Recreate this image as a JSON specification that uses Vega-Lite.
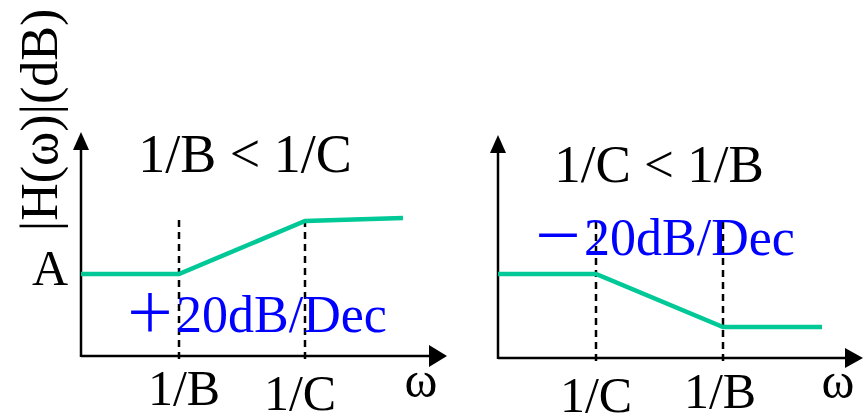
{
  "$schema": "https://vega.github.io/schema/vega-lite/v6.json",
  "padding": 0,
  "spacing": 0,
  "background": "white",
  "config": {"view": {"stroke": null}, "concat": {"spacing": 0}},
  "datasets": {
    "axes": [
      {"panel": "L", "x": 0, "y": -0.01, "x2": 0, "y2": 2.1},
      {"panel": "L", "x": 0, "y": 0, "x2": 3.5, "y2": 0},
      {"panel": "R", "x": 0, "y": -0.01, "x2": 0, "y2": 2.1},
      {"panel": "R", "x": 0, "y": 0, "x2": 3.5, "y2": 0}
    ],
    "arrows": [
      {"panel": "L", "dir": "up", "x": 0, "y": 2.15},
      {"panel": "L", "dir": "right", "x": 3.57, "y": 0},
      {"panel": "R", "dir": "up", "x": 0, "y": 2.14},
      {"panel": "R", "dir": "right", "x": 3.56, "y": 0}
    ],
    "curve": [
      {"panel": "L", "order": 1, "x": 0, "y": 0.82},
      {"panel": "L", "order": 2, "x": 0.98, "y": 0.82},
      {"panel": "L", "order": 3, "x": 2.24, "y": 1.35},
      {"panel": "L", "order": 4, "x": 3.22, "y": 1.38},
      {"panel": "R", "order": 1, "x": 0, "y": 0.84},
      {"panel": "R", "order": 2, "x": 0.98, "y": 0.84},
      {"panel": "R", "order": 3, "x": 2.25, "y": 0.31},
      {"panel": "R", "order": 4, "x": 3.24, "y": 0.31}
    ],
    "breaks": [
      {"panel": "L", "x": 0.98, "y": -0.03, "y2": 1.41},
      {"panel": "L", "x": 2.24, "y": -0.03, "y2": 1.38},
      {"panel": "R", "x": 0.98, "y": -0.03, "y2": 1.38},
      {"panel": "R", "x": 2.25, "y": -0.03, "y2": 1.38}
    ],
    "titles": [
      {"panel": "L", "text": "1/B < 1/C", "x": 1.64, "y": 1.84},
      {"panel": "R", "text": "1/C < 1/B", "x": 1.61, "y": 1.76}
    ],
    "labels": [
      {"panel": "L", "text": "A", "x": -0.31, "y": 0.71},
      {"panel": "L", "text": "1/B", "x": 1.03, "y": -0.49},
      {"panel": "L", "text": "1/C", "x": 2.19, "y": -0.54},
      {"panel": "L", "text": "ω", "x": 3.4, "y": -0.41},
      {"panel": "R", "text": "1/C", "x": 0.98, "y": -0.54},
      {"panel": "R", "text": "1/B", "x": 2.22, "y": -0.5},
      {"panel": "R", "text": "ω", "x": 3.4, "y": -0.4}
    ],
    "slopes": [
      {"panel": "L", "text": "＋20dB/Dec", "x": 0.43, "y": 0.24},
      {"panel": "R", "text": "－20dB/Dec", "x": 0.34, "y": 1.03}
    ],
    "ytitle": [
      {"panel": "L", "text": "|H(ω)|(dB)", "x": -0.24, "y": 2.36}
    ]
  },
  "hconcat": [
    {
      "width": 448,
      "height": 414,
      "layer": [
        {
          "data": {"name": "axes"},
          "transform": [{"filter": "datum.panel == 'L'"}],
          "mark": {"type": "rule", "color": "black", "strokeWidth": 2.5},
          "encoding": {
            "x": {"field": "x", "type": "quantitative", "scale": {"domain": [-0.81, 3.67], "nice": false, "zero": false}, "axis": null},
            "y": {"field": "y", "type": "quantitative", "scale": {"domain": [-0.58, 3.56], "nice": false, "zero": false}, "axis": null},
            "x2": {"field": "x2"},
            "y2": {"field": "y2"}
          }
        },
        {
          "data": {"name": "arrows"},
          "transform": [{"filter": "datum.panel == 'L' && datum.dir == 'up'"}],
          "mark": {"type": "point", "shape": "M0,-0.9L0.8,0.9L-0.8,0.9Z", "size": 400, "filled": true, "color": "black", "opacity": 1, "strokeWidth": 0},
          "encoding": {
            "x": {"field": "x", "type": "quantitative", "axis": null},
            "y": {"field": "y", "type": "quantitative", "axis": null}
          }
        },
        {
          "data": {"name": "arrows"},
          "transform": [{"filter": "datum.panel == 'L' && datum.dir == 'right'"}],
          "mark": {"type": "point", "shape": "M0.9,0L-0.9,1.1L-0.9,-1.1Z", "size": 400, "filled": true, "color": "black", "opacity": 1, "strokeWidth": 0},
          "encoding": {
            "x": {"field": "x", "type": "quantitative", "axis": null},
            "y": {"field": "y", "type": "quantitative", "axis": null}
          }
        },
        {
          "data": {"name": "breaks"},
          "transform": [{"filter": "datum.panel == 'L'"}],
          "mark": {"type": "rule", "color": "black", "strokeWidth": 2.5, "strokeDash": [7, 5]},
          "encoding": {
            "x": {"field": "x", "type": "quantitative", "axis": null},
            "y": {"field": "y", "type": "quantitative", "axis": null},
            "y2": {"field": "y2"}
          }
        },
        {
          "data": {"name": "curve"},
          "transform": [{"filter": "datum.panel == 'L'"}],
          "mark": {"type": "line", "color": "#00c896", "strokeWidth": 4.5},
          "encoding": {
            "x": {"field": "x", "type": "quantitative", "axis": null},
            "y": {"field": "y", "type": "quantitative", "axis": null},
            "order": {"field": "order", "type": "quantitative"}
          }
        },
        {
          "data": {"name": "titles"},
          "transform": [{"filter": "datum.panel == 'L'"}],
          "mark": {"type": "text", "font": "Liberation Serif", "fontSize": 54, "color": "black", "align": "center", "baseline": "alphabetic"},
          "encoding": {
            "x": {"field": "x", "type": "quantitative", "axis": null},
            "y": {"field": "y", "type": "quantitative", "axis": null},
            "text": {"field": "text"}
          }
        },
        {
          "data": {"name": "labels"},
          "transform": [{"filter": "datum.panel == 'L'"}],
          "mark": {"type": "text", "font": "Liberation Serif", "fontSize": 50, "color": "black", "align": "center", "baseline": "alphabetic"},
          "encoding": {
            "x": {"field": "x", "type": "quantitative", "axis": null},
            "y": {"field": "y", "type": "quantitative", "axis": null},
            "text": {"field": "text"}
          }
        },
        {
          "data": {"name": "slopes"},
          "transform": [{"filter": "datum.panel == 'L'"}],
          "mark": {"type": "text", "font": "Liberation Serif, Noto Sans CJK SC", "fontSize": 52, "color": "#0000ff", "align": "left", "baseline": "alphabetic"},
          "encoding": {
            "x": {"field": "x", "type": "quantitative", "axis": null},
            "y": {"field": "y", "type": "quantitative", "axis": null},
            "text": {"field": "text"}
          }
        },
        {
          "data": {"name": "ytitle"},
          "mark": {"type": "text", "font": "Liberation Serif", "fontSize": 52, "color": "black", "align": "center", "baseline": "alphabetic", "angle": 270},
          "encoding": {
            "x": {"field": "x", "type": "quantitative", "axis": null},
            "y": {"field": "y", "type": "quantitative", "axis": null},
            "text": {"field": "text"}
          }
        }
      ]
    },
    {
      "width": 417,
      "height": 414,
      "layer": [
        {
          "data": {"name": "axes"},
          "transform": [{"filter": "datum.panel == 'R'"}],
          "mark": {"type": "rule", "color": "black", "strokeWidth": 2.5},
          "encoding": {
            "x": {"field": "x", "type": "quantitative", "scale": {"domain": [-0.5, 3.67], "nice": false, "zero": false}, "axis": null},
            "y": {"field": "y", "type": "quantitative", "scale": {"domain": [-0.56, 3.58], "nice": false, "zero": false}, "axis": null},
            "x2": {"field": "x2"},
            "y2": {"field": "y2"}
          }
        },
        {
          "data": {"name": "arrows"},
          "transform": [{"filter": "datum.panel == 'R' && datum.dir == 'up'"}],
          "mark": {"type": "point", "shape": "M0,-0.9L0.8,0.9L-0.8,0.9Z", "size": 400, "filled": true, "color": "black", "opacity": 1, "strokeWidth": 0},
          "encoding": {
            "x": {"field": "x", "type": "quantitative", "axis": null},
            "y": {"field": "y", "type": "quantitative", "axis": null}
          }
        },
        {
          "data": {"name": "arrows"},
          "transform": [{"filter": "datum.panel == 'R' && datum.dir == 'right'"}],
          "mark": {"type": "point", "shape": "M0.9,0L-0.9,1.0L-0.9,-1.0Z", "size": 400, "filled": true, "color": "black", "opacity": 1, "strokeWidth": 0},
          "encoding": {
            "x": {"field": "x", "type": "quantitative", "axis": null},
            "y": {"field": "y", "type": "quantitative", "axis": null}
          }
        },
        {
          "data": {"name": "breaks"},
          "transform": [{"filter": "datum.panel == 'R'"}],
          "mark": {"type": "rule", "color": "black", "strokeWidth": 2.5, "strokeDash": [7, 5]},
          "encoding": {
            "x": {"field": "x", "type": "quantitative", "axis": null},
            "y": {"field": "y", "type": "quantitative", "axis": null},
            "y2": {"field": "y2"}
          }
        },
        {
          "data": {"name": "curve"},
          "transform": [{"filter": "datum.panel == 'R'"}],
          "mark": {"type": "line", "color": "#00c896", "strokeWidth": 4.5},
          "encoding": {
            "x": {"field": "x", "type": "quantitative", "axis": null},
            "y": {"field": "y", "type": "quantitative", "axis": null},
            "order": {"field": "order", "type": "quantitative"}
          }
        },
        {
          "data": {"name": "titles"},
          "transform": [{"filter": "datum.panel == 'R'"}],
          "mark": {"type": "text", "font": "Liberation Serif", "fontSize": 53, "color": "black", "align": "center", "baseline": "alphabetic"},
          "encoding": {
            "x": {"field": "x", "type": "quantitative", "axis": null},
            "y": {"field": "y", "type": "quantitative", "axis": null},
            "text": {"field": "text"}
          }
        },
        {
          "data": {"name": "labels"},
          "transform": [{"filter": "datum.panel == 'R'"}],
          "mark": {"type": "text", "font": "Liberation Serif", "fontSize": 50, "color": "black", "align": "center", "baseline": "alphabetic"},
          "encoding": {
            "x": {"field": "x", "type": "quantitative", "axis": null},
            "y": {"field": "y", "type": "quantitative", "axis": null},
            "text": {"field": "text"}
          }
        },
        {
          "data": {"name": "slopes"},
          "transform": [{"filter": "datum.panel == 'R'"}],
          "mark": {"type": "text", "font": "Liberation Serif, Noto Sans CJK SC", "fontSize": 52, "color": "#0000ff", "align": "left", "baseline": "alphabetic"},
          "encoding": {
            "x": {"field": "x", "type": "quantitative", "axis": null},
            "y": {"field": "y", "type": "quantitative", "axis": null},
            "text": {"field": "text"}
          }
        }
      ]
    }
  ]
}
